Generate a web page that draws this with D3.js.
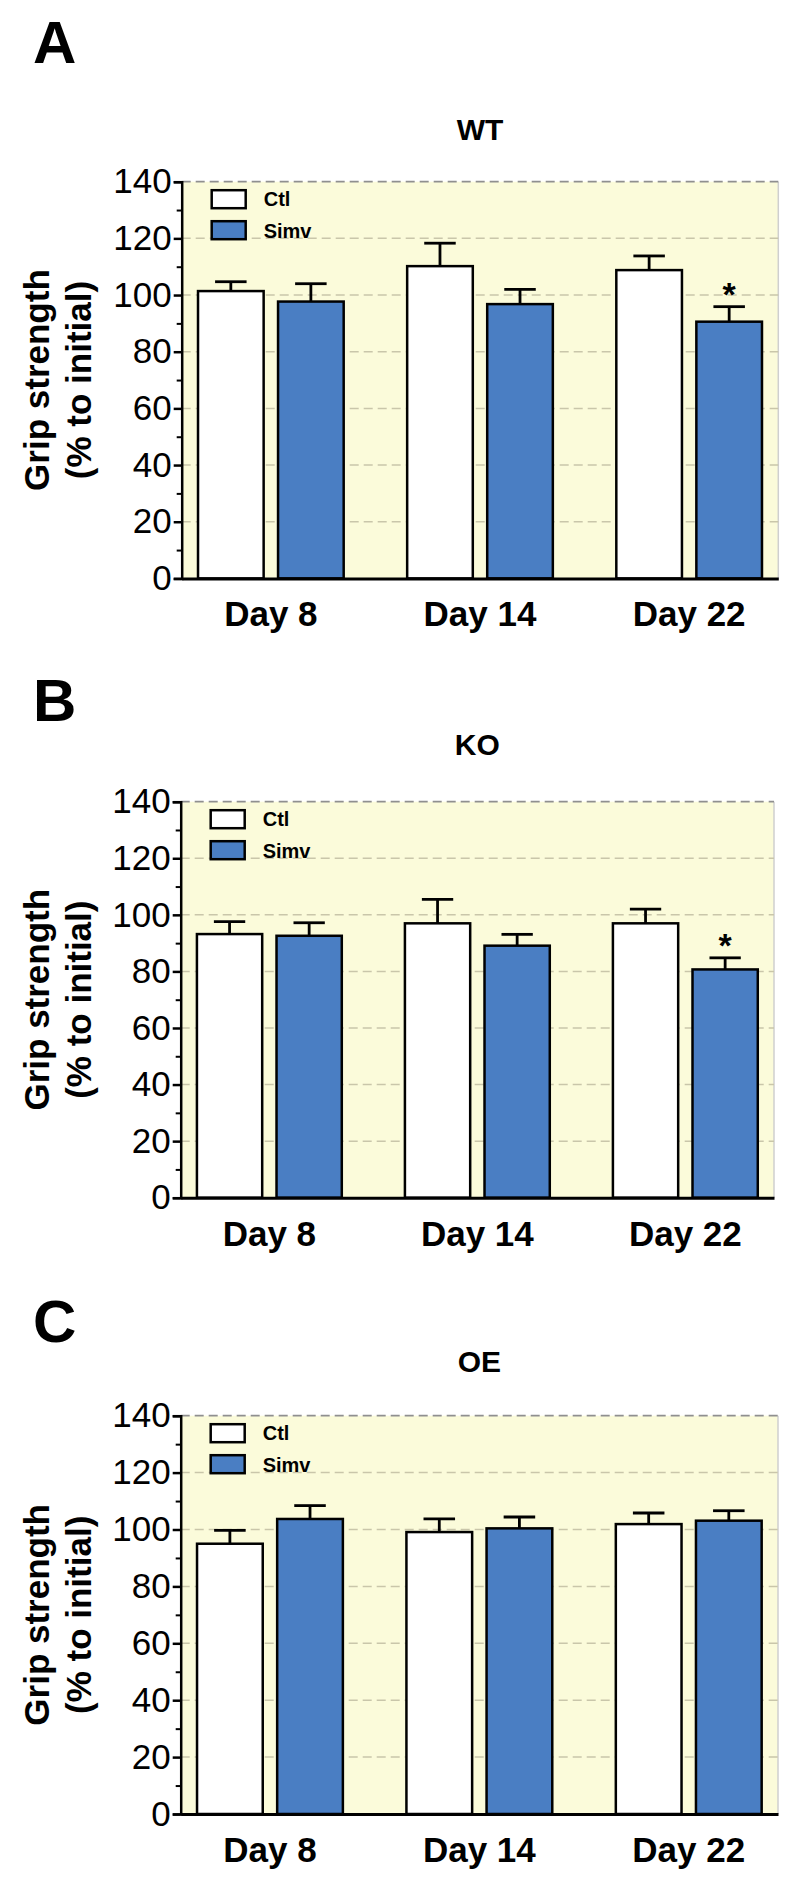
<!DOCTYPE html>
<html>
<head>
<meta charset="utf-8">
<script src="https://cdn.jsdelivr.net/npm/d3@7"></script>
<style>
  html, body { margin: 0; padding: 0; background: #ffffff; }
  svg { display: block; }
  text { font-family: "Liberation Sans", Arial, sans-serif; }
</style>
</head>
<body>
<svg id="chart" width="800" height="1892"></svg>
<script>
// ---------------- data ----------------
const categories = ["Day 8", "Day 14", "Day 22"];
const seriesNames = ["Ctl", "Simv"];
const panelLetters = ["A", "B", "C"];
const panelTitles = ["WT", "KO", "OE"];
const yTickValues = [0, 20, 40, 60, 80, 100, 120, 140];
const yMinorTickValues = [10, 30, 50, 70, 90, 110, 130];

const wtCtl = [101.4, 110.2, 108.8];
const wtCtlErr = [3.3, 8.1, 5.0];
const wtSimv = [97.7, 96.8, 90.6];
const wtSimvErr = [6.3, 5.2, 5.3];

const koCtl = [93.2, 97.0, 97.0];
const koCtlErr = [4.4, 8.5, 5.0];
const koSimv = [92.6, 89.1, 80.7];
const koSimvErr = [4.6, 4.0, 4.1];

const oeCtl = [95.0, 99.1, 101.9];
const oeCtlErr = [4.7, 4.6, 3.9];
const oeSimv = [103.7, 100.4, 103.1];
const oeSimvErr = [4.7, 4.0, 3.5];

// significance marks: [series index, category index]
const wtSignif = [[1, 2]];
const koSignif = [[1, 2]];
const oeSignif = [];

// ---------------- layout (not data) ----------------
const layouts = [
  { left: 181.7, right: 778.3, top: 181.7, bottom: 578.4, letterY: 63, titleY: 140 },
  { left: 180.7, right: 774,   top: 801.7, bottom: 1197.7, letterY: 721, titleY: 755 },
  { left: 180.7, right: 778,   top: 1415.7, bottom: 1814, letterY: 1342, titleY: 1372 }
];

const panels = [
  { vals: [wtCtl, wtSimv], errs: [wtCtlErr, wtSimvErr], signif: wtSignif },
  { vals: [koCtl, koSimv], errs: [koCtlErr, koSimvErr], signif: koSignif },
  { vals: [oeCtl, oeSimv], errs: [oeCtlErr, oeSimvErr], signif: oeSignif }
];

const fills = ["#ffffff", "#4a7ec3"];
const plotBg = "#fbfbda";

const svg = d3.select("#chart");

panels.forEach((p, pi) => {
  const L = layouts[pi];
  const g = svg.append("g");

  const x0 = d3.scaleBand().domain(categories).range([L.left, L.right])
    .paddingInner(0.3035).paddingOuter(0.078);
  const x1 = d3.scaleBand().domain(seriesNames).range([0, x0.bandwidth()])
    .paddingInner(0.18).paddingOuter(0);
  const y = d3.scaleLinear().domain([0, 140]).range([L.bottom, L.top]);

  // panel letter
  g.append("text").attr("x", 33).attr("y", L.letterY)
    .attr("font-size", 60).attr("font-weight", "bold").attr("fill", "#000")
    .text(panelLetters[pi]);

  // title
  g.append("text").attr("x", (L.left + L.right) / 2).attr("y", L.titleY)
    .attr("text-anchor", "middle").attr("font-size", 30).attr("font-weight", "bold")
    .text(panelTitles[pi]);

  // plot background
  g.append("rect").attr("x", L.left).attr("y", L.top)
    .attr("width", L.right - L.left).attr("height", L.bottom - L.top)
    .attr("fill", plotBg);
  g.append("line").attr("x1", L.right).attr("x2", L.right)
    .attr("y1", L.top).attr("y2", L.bottom)
    .attr("stroke", "#cfcfcf").attr("stroke-width", 1.5);

  // gridlines
  g.append("g").selectAll("line").data(yTickValues.filter(d => d > 0)).join("line")
    .attr("x1", L.left).attr("x2", L.right)
    .attr("y1", d => y(d)).attr("y2", d => y(d))
    .attr("stroke", d => d === 140 ? "#8f8f8f" : "#c9c6aa")
    .attr("stroke-width", d => d === 140 ? 1.8 : 1.5)
    .attr("stroke-dasharray", "9,5");

  // legend
  const lg = g.append("g");
  seriesNames.forEach((s, si) => {
    lg.append("rect").attr("x", L.left + 30).attr("y", L.top + 8.5 + si * 31)
      .attr("width", 34).attr("height", 18)
      .attr("fill", fills[si]).attr("stroke", "#000").attr("stroke-width", 2.5);
    lg.append("text").attr("x", L.left + 82).attr("y", L.top + 24 + si * 32)
      .attr("font-size", 20).attr("font-weight", "bold").text(s);
  });

  // bars
  const groups = g.append("g").selectAll("g").data(categories).join("g")
    .attr("transform", d => `translate(${x0(d)},0)`);

  groups.each(function(cat, ci) {
    const gg = d3.select(this);
    seriesNames.forEach((s, si) => {
      const v = p.vals[si][ci];
      const e = p.errs[si][ci];
      const bx = x1(s);
      const bw = x1.bandwidth();
      const cx = bx + bw / 2;
      // error bar (behind bar)
      gg.append("line").attr("x1", cx).attr("x2", cx)
        .attr("y1", y(v)).attr("y2", y(v + e))
        .attr("stroke", "#000").attr("stroke-width", 2.8);
      gg.append("line").attr("x1", cx - bw * 0.24).attr("x2", cx + bw * 0.24)
        .attr("y1", y(v + e)).attr("y2", y(v + e))
        .attr("stroke", "#000").attr("stroke-width", 2.8);
      gg.append("rect").attr("x", bx).attr("y", y(v))
        .attr("width", bw).attr("height", y(0) - y(v))
        .attr("fill", fills[si]).attr("stroke", "#000").attr("stroke-width", 2.5);
    });
  });

  // significance stars
  p.signif.forEach(([si, ci]) => {
    const v = p.vals[si][ci] + p.errs[si][ci];
    const cx = x0(categories[ci]) + x1(seriesNames[si]) + x1.bandwidth() / 2;
    g.append("text").attr("x", cx).attr("y", y(v) - 1)
      .attr("text-anchor", "middle").attr("font-size", 34).attr("font-weight", "bold")
      .text("*");
  });

  // y axis (major)
  const yAxis = d3.axisLeft(y).tickValues(yTickValues).tickSize(8).tickPadding(2)
    .tickFormat(d3.format("d"));
  const ya = g.append("g").attr("transform", `translate(${L.left},0)`).call(yAxis);
  ya.select(".domain").attr("stroke", "#000").attr("stroke-width", 2.5);
  ya.selectAll(".tick line").attr("stroke", "#000").attr("stroke-width", 2.5);
  ya.selectAll(".tick text").attr("font-size", 35).attr("fill", "#000")
    .attr("font-family", "Liberation Sans, Arial, sans-serif");

  // y axis (minor)
  const yMinor = d3.axisLeft(y).tickValues(yMinorTickValues).tickSize(5).tickFormat("");
  const ym = g.append("g").attr("transform", `translate(${L.left},0)`).call(yMinor);
  ym.select(".domain").remove();
  ym.selectAll(".tick line").attr("stroke", "#000").attr("stroke-width", 2);

  // x axis
  const xAxis = d3.axisBottom(x0).tickSize(0).tickPadding(23).tickSizeOuter(0);
  const xa = g.append("g").attr("transform", `translate(0,${L.bottom})`).call(xAxis);
  xa.select(".domain").attr("stroke", "#000").attr("stroke-width", 3);
  xa.selectAll(".tick text").attr("font-size", 35).attr("font-weight", "bold")
    .attr("fill", "#000").attr("font-family", "Liberation Sans, Arial, sans-serif");

  // y label
  const cy = (L.top + L.bottom) / 2;
  g.append("text").attr("transform", `translate(49,${cy}) rotate(-90)`)
    .attr("text-anchor", "middle").attr("font-size", 35).attr("font-weight", "bold")
    .text("Grip strength");
  g.append("text").attr("transform", `translate(91,${cy}) rotate(-90)`)
    .attr("text-anchor", "middle").attr("font-size", 35).attr("font-weight", "bold")
    .text("(% to initial)");
});
</script>
</body>
</html>
